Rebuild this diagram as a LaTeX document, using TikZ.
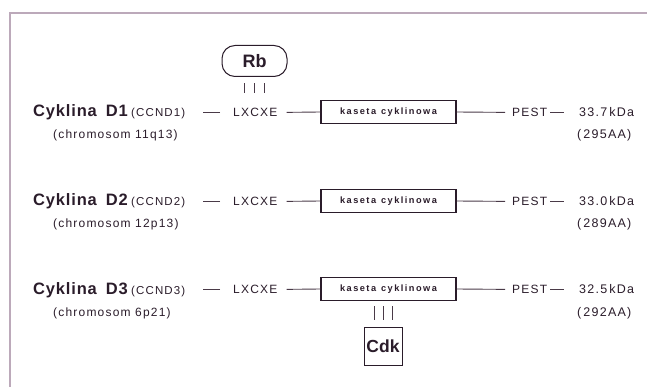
\documentclass[tikz,border=0pt]{standalone}
\usepackage{fontspec}
\setmainfont{Liberation Sans}
\newfontfamily\sansA[LetterSpace=5]{Liberation Sans}
\newfontfamily\sansB[LetterSpace=10]{Liberation Sans}
\newfontfamily\sansC[LetterSpace=16]{Liberation Sans}
\definecolor{ink}{HTML}{2A1C2A}
\definecolor{wire}{HTML}{4A3A48}
\definecolor{rule}{HTML}{BCA9BA}
\begin{document}
\begin{tikzpicture}[x=1pt,y=-1pt,
  txt/.style={inner sep=0pt, anchor=base west, text=ink},
  cname/.style={txt, font=\sansA\fontsize{16.5}{17}\selectfont\bfseries},
  gene/.style={txt, font=\sansB\fontsize{11.5}{13}\selectfont},
  chrom/.style={txt, font=\sansB\fontsize{12}{14}\selectfont},
  motif/.style={txt, font=\sansB\fontsize{12}{14}\selectfont},
  mass/.style={txt, font=\sansB\fontsize{12.5}{14}\selectfont},
  cassette/.style={draw=ink, line width=1.1pt, minimum width=135pt, minimum height=23pt,
    inner sep=0pt, text=ink, font=\sansC\fontsize{9.2}{10}\selectfont\bfseries},
  partner/.style={draw=ink, line width=1pt, inner sep=0pt, text=ink},
  link/.style={draw=wire, line width=0.9pt},
  bond/.style={draw=wire, line width=1pt},
  frame/.style={draw=rule, line width=1.2pt}]
\useasboundingbox (0,0) rectangle (647,387);

% open frame: top and left edges only
\draw[frame] (9,13) -- (647,13);
\draw[frame] (10,13) -- (10,387);

% one row per cyclin
\foreach \r/\y/\ccnd/\chr/\kda/\aa in
  {1/112/CCND1/11q13/33.7/295, 2/201/CCND2/12p13/33.0/289, 3/289/CCND3/6p21/32.5/292}{
  \node[cname] (cyc\r) at (33,\y+5) {Cyklina\hspace{9pt}D\r};
  \node[gene]  (gen\r) at (cyc\r.base east) [xshift=3pt] {(\ccnd)};
  \node[chrom] (chr\r) at (53,\y+27) {(chromosom \chr)};
  \node[motif] (lx\r)  at (233,\y+4.5) {LXCXE};
  \node[cassette] (kas\r) at (388.5,\y) {kaseta\hspace{5pt}cyklinowa};
  \node[motif] (pe\r)  at (512,\y+4.5) {PEST};
  \node[mass]  (kda\r) at (579,\y+4.5) {\kda\,kDa};
  \node[mass]  (aa\r)  at (577,\y+27) {(\,\aa AA)};
  \draw[link] ([xshift=-13pt]lx\r.west) -- ++(-17,0);
  \draw[link] ([xshift=9pt]lx\r.east) -- (kas\r.west);
  \draw[link] (kas\r.east) -- ([xshift=-7pt]pe\r.west);
  \draw[link] ([xshift=3pt]pe\r.east) -- ++(14,0);
}

% Rb bound to the LXCXE motif of cyclin D1
\node[partner, rounded corners=13pt, minimum width=65pt, minimum height=31pt,
      font=\fontsize{18}{18}\selectfont\bfseries] (rb) at (254.5,61) {Rb};
\foreach \dx in {-10,0,10}
  \draw[bond, shorten <=6.5pt, shorten >=15pt]
    ([xshift=\dx pt]rb.south) -- ([xshift=\dx pt]rb.south |- lx1.north);

% Cdk bound to the cyclin box of cyclin D3
\node[partner, minimum width=38pt, minimum height=38pt,
      font=\fontsize{17.5}{18}\selectfont\bfseries] (cdk) at (383,346) {Cdk};
\foreach \dx in {-9,0,9}
  \draw[bond, shorten <=7pt, shorten >=5pt]
    ([xshift=\dx pt]cdk.north) -- ([xshift=\dx pt]cdk.north |- kas3.south);
\end{tikzpicture}
\end{document}
